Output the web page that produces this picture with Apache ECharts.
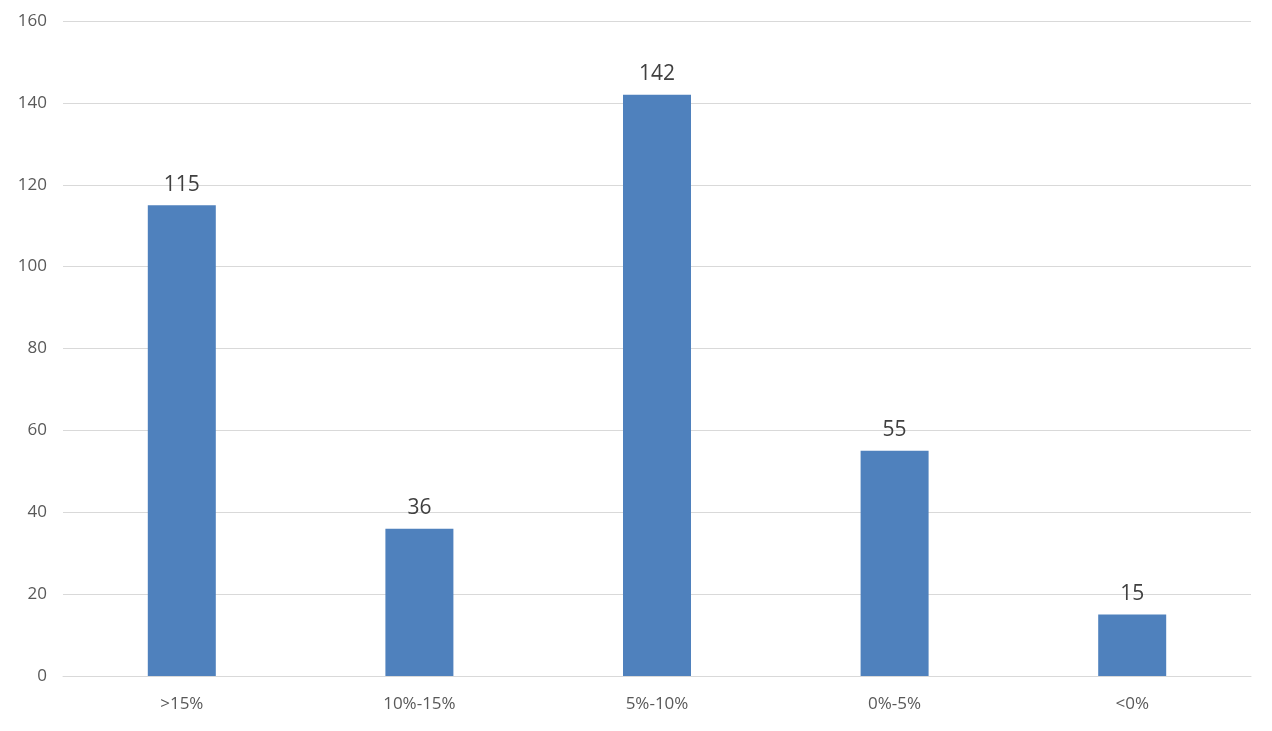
<!DOCTYPE html>
<html>
<head>
<meta charset="utf-8">
<script src="https://cdn.jsdelivr.net/npm/echarts@6/dist/echarts.min.js"></script>
<style>
  html, body { margin: 0; padding: 0; background: #fff; }
  #chart { width: 1272px; height: 731px; }
</style>
</head>
<body>
<div id="chart"></div>
<script>
var categories = ['>15%', '10%-15%', '5%-10%', '0%-5%', '<0%'];
var counts = [115, 36, 142, 55, 15];

var myChart = echarts.init(document.getElementById('chart'));
myChart.setOption({
    animation: false,
    grid: { left: 63, right: 21, top: 21, bottom: 55 },
    xAxis: {
        type: 'category',
        data: categories,
        axisLine: { lineStyle: { color: '#d9d9d9' } },
        axisTick: { show: false },
        axisLabel: { color: '#595959', fontSize: 17, margin: 20, fontFamily: 'Open Sans' }
    },
    yAxis: {
        type: 'value',
        min: 0,
        max: 160,
        interval: 20,
        axisLine: { show: false },
        axisTick: { show: false },
        axisLabel: { color: '#595959', fontSize: 17, margin: 16, fontFamily: 'Open Sans' },
        splitLine: { lineStyle: { color: '#d9d9d9' } }
    },
    series: [{
        type: 'bar',
        data: counts,
        barWidth: 68,
        itemStyle: { color: '#4f81bd' },
        label: {
            show: true,
            position: 'top',
            distance: 10,
            color: '#404040',
            fontSize: 21,
            fontFamily: 'Open Sans'
        }
    }]
});
</script>
</body>
</html>
